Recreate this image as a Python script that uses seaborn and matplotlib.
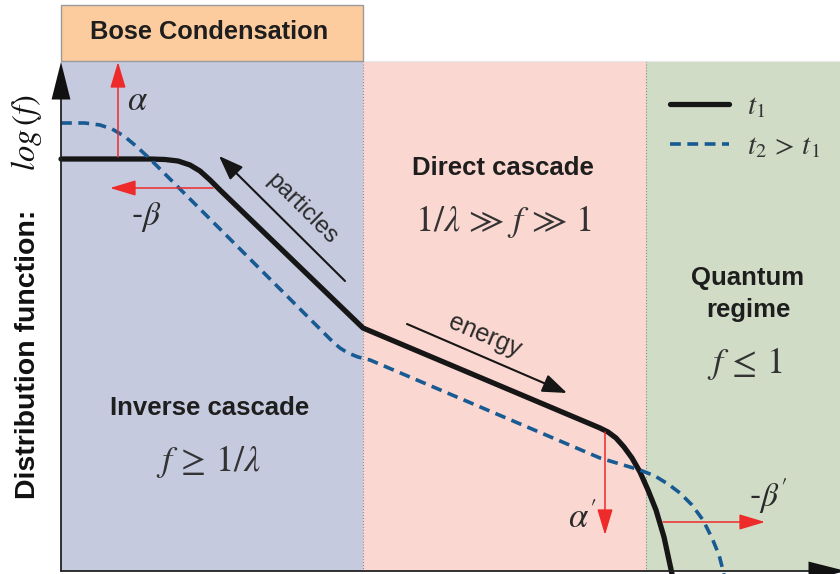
import numpy as np
import pandas as pd
import matplotlib
matplotlib.use("Agg")
import matplotlib.pyplot as plt
import seaborn as sns
from matplotlib.patches import Rectangle

sns.set_theme(style="white")
plt.rcParams["font.family"] = ["Liberation Sans", "DejaVu Sans"]
plt.rcParams["mathtext.fontset"] = "stix"

# ---- data (schematic curves, in figure-pixel units: x -> log k, y -> log f, y down) ----
series_names = [r"$t_1$", r"$t_2\,>\,t_1$"]
t1_x = [61, 150, 165, 178, 190, 200, 210, 220, 363, 600, 608, 616, 624, 632, 640, 648, 656, 664, 672]
t1_y = [159, 159, 159.5, 161, 165, 171, 180, 190, 328, 428, 432, 438, 447, 458, 472, 490, 510, 537, 574]
t2_x = [61, 85, 100, 112, 124, 136, 148, 160, 333, 340, 348, 358, 370, 600, 620, 640, 655, 668, 680, 692, 703, 712, 719, 724]
t2_y = [123, 123, 125, 129, 136, 146, 157, 169, 342, 348, 353, 357, 360, 458, 464, 470, 476, 484, 493, 505, 520, 538, 555, 574]

region_labels = ["Inverse cascade", "Direct cascade", "Quantum\nregime"]
region_conditions = [r"$f\,\geq\,1/\lambda$", r"$1/\lambda\,\gg\,f\,\gg\,1$", r"$f\,\leq\,1$"]
region_edges = [61, 363, 646, 840]
region_colors = ["#c6cadf", "#fbd7d1", "#d1dcc6"]

df = pd.concat([
    pd.DataFrame({"x": t1_x, "y": t1_y, "series": series_names[0]}),
    pd.DataFrame({"x": t2_x, "y": t2_y, "series": series_names[1]}),
])

fig = plt.figure(figsize=(8.4, 5.74), dpi=100)
ax = fig.add_axes([0, 0, 1, 1])

TOP, BOT = 61, 571
# regions
for i in range(3):
    ax.add_patch(Rectangle((region_edges[i], TOP), region_edges[i + 1] - region_edges[i], BOT - TOP,
                           facecolor=region_colors[i], edgecolor="none", zorder=0))
for xe in region_edges[1:3]:
    ax.plot([xe, xe], [TOP, BOT], color="#8a8a8a", lw=0.8, ls=":", zorder=1)
ax.plot([region_edges[1], 840], [TOP, TOP], color="#e8e8e8", lw=0.8, zorder=1)

# Bose condensation box
ax.add_patch(Rectangle((61, 5), 302, 56, facecolor="#fccc9e", edgecolor="#9a9a9a", lw=1.0, zorder=2))
ax.text(209, 32, "Bose Condensation", ha="center", va="center", fontsize=18.3, fontweight="bold",
        color="#1e1e1e", zorder=3)

# curves
sns.lineplot(data=df, x="x", y="y", hue="series", style="series", size="series",
             palette={series_names[0]: "#161616", series_names[1]: "#185a92"},
             dashes={series_names[0]: "", series_names[1]: (3.0, 1.8)},
             sizes={series_names[0]: 3.8, series_names[1]: 2.6},
             sort=False, estimator=None, ax=ax, zorder=4)
ax.set_xlim(0, 840)
ax.set_ylim(574, 0)
ax.axis("off")

# axes arrows
ax.plot([61, 61], [571, 95], color="#222222", lw=1.3, zorder=5)
ax.plot([61, 815], [571, 571], color="#222222", lw=1.3, zorder=5)
ax.annotate("", xy=(61, 62), xytext=(61, 110), annotation_clip=False,
            arrowprops=dict(arrowstyle="-|>,head_length=1.35,head_width=0.34", mutation_scale=20,
                            color="#111111", lw=0, shrinkA=0, shrinkB=0), zorder=6)
ax.annotate("", xy=(846, 571), xytext=(790, 571), annotation_clip=False,
            arrowprops=dict(arrowstyle="-|>,head_length=1.35,head_width=0.34", mutation_scale=20,
                            color="#111111", lw=0, shrinkA=0, shrinkB=0), zorder=6)

red = "#ee2a2a"
def red_arrow(p0, p1):
    ax.annotate("", xy=p1, xytext=p0, annotation_clip=False,
                arrowprops=dict(arrowstyle="-|>,head_length=0.8,head_width=0.24", mutation_scale=20,
                                color=red, lw=1.1, shrinkA=0, shrinkB=0), zorder=6)

red_arrow((118, 157), (118, 62))
red_arrow((213, 188), (110, 188))
red_arrow((605, 432), (605, 535))
red_arrow((663, 522), (765, 522))

def black_arrow(p0, p1):
    ax.annotate("", xy=p1, xytext=p0, annotation_clip=False,
                arrowprops=dict(arrowstyle="-|>,head_length=0.75,head_width=0.28", mutation_scale=20,
                                color="#161616", lw=1.5, shrinkA=0, shrinkB=0), zorder=6)

black_arrow((345, 281), (219, 156))
black_arrow((407, 324), (567, 393))

tc = "#2a2a2a"
ax.text(302, 209, "particles", rotation=-45, ha="center", va="center", fontsize=17.5, color=tc, zorder=6)
ax.text(485, 336, "energy", rotation=-23, ha="center", va="center", fontsize=18, color=tc, zorder=6)

ax.text(138, 100, r"$\alpha$", ha="center", va="center", fontsize=25, color=tc, zorder=6)
ax.text(146, 217, r"-$\beta$", ha="center", va="center", fontsize=24, color=tc, zorder=6)
ax.text(582, 519, r"$\alpha'$", ha="center", va="center", fontsize=25, color=tc, zorder=6)
ax.text(768, 496, r"-$\beta'$", ha="center", va="center", fontsize=24, color=tc, zorder=6)

# region labels
label_pos = [(210, 408), (503, 168), (748, 294)]
cond_pos = [(208, 462), (503, 221), (745, 364)]
for lab, (x, y) in zip(region_labels, label_pos):
    ax.text(x, y, lab, ha="center", va="center", fontsize=18.5, fontweight="bold", color="#1e1e1e",
            linespacing=1.45, zorder=6)
for cnd, (x, y) in zip(region_conditions, cond_pos):
    ax.text(x, y, cnd, ha="center", va="center", fontsize=26, color="#333333", zorder=6)

# y label
ax.text(28, 354, "Distribution function:", rotation=90, ha="center", va="center",
        fontsize=20.5, fontweight="bold", color="#111111", zorder=6)
ax.text(27, 133, r"$log\,(f)$", rotation=90, ha="center", va="center",
        fontsize=23.5, color="#111111", zorder=6)

# legend
leg = ax.legend(loc="upper left", bbox_to_anchor=(655 / 840, 1 - 78 / 574), frameon=False,
                fontsize=21, handlelength=2.05, handletextpad=0.6, labelspacing=0.4, borderpad=0)
for t in leg.get_texts():
    t.set_color("#333333")

fig.savefig("out.png", dpi=100)
